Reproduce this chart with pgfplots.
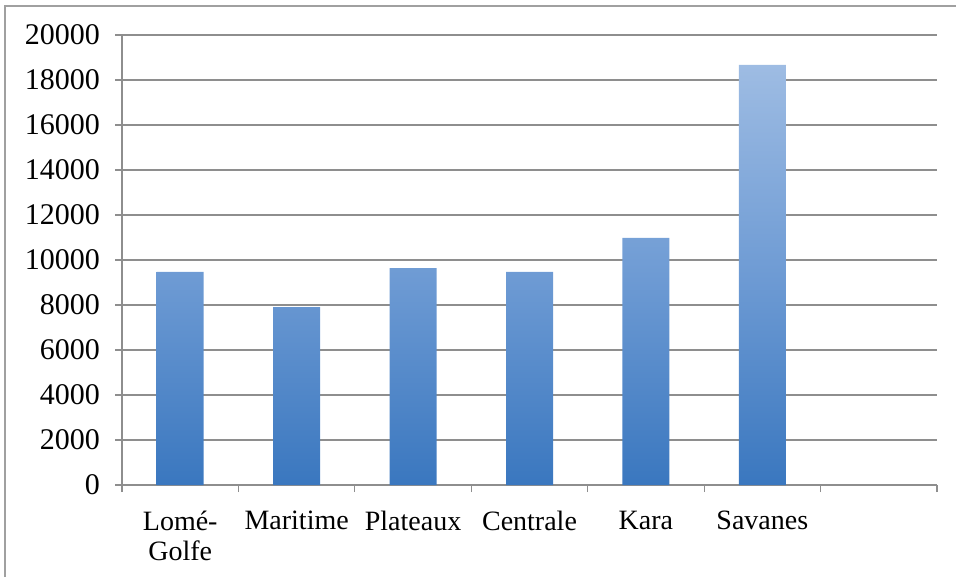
\documentclass[border=0pt]{standalone}
\usepackage{pgfplots}
\pgfplotsset{compat=1.18}
\usepackage{fontspec}
\setmainfont{Liberation Serif}
\definecolor{bartop}{HTML}{9EBCE3}
\definecolor{barmid}{HTML}{6E9BD4}
\definecolor{barbot}{HTML}{3A77BF}
\definecolor{gridgray}{HTML}{8E8E8E}
\definecolor{framegray}{HTML}{A0A0A0}
\begin{document}
\begin{tikzpicture}[x=1pt,y=1pt]
\useasboundingbox (0,0) rectangle (478,288.5);
\draw[framegray, line width=0.8pt] (2.5,0) -- (2.5,285.5) -- (478,285.5);
\begin{axis}[
  at={(61pt,46pt)}, anchor=south west,
  scale only axis, width=407.5pt, height=225pt,
  xmin=0.5, xmax=7.5, ymin=0, ymax=20000,
  ytick={0,2000,...,20000},
  xtick={1,2,3,4,5,6},
  xticklabels={{Lomé-\\Golfe},Maritime,Plateaux,Centrale,Kara,Savanes},
  minor xtick={0.5,1.5,...,7.5},
  major x tick style={draw=none},
  tick align=outside,
  major tick length=3.5pt, minor tick length=3.5pt,
  tick style={gridgray, line width=0.6pt},
  axis x line*=bottom, axis y line*=left,
  axis line style={gridgray, line width=0.7pt, -},
  ymajorgrids, grid style={gridgray, line width=0.6pt},
  scaled y ticks=false,
  yticklabel style={/pgf/number format/1000 sep={}, font=\fontsize{15}{17}\selectfont, xshift=-4pt},
  xticklabel style={font=\fontsize{14}{15}\selectfont, align=center, yshift=-6pt, text depth=0pt},
  /pgf/number format/assume math mode=true,
  ybar, bar width=23.5pt,
]
\addplot[draw=none, top color=bartop, bottom color=barbot, middle color=barmid] coordinates {
 (1,9470) (2,7910) (3,9640) (4,9470) (5,10980) (6,18670)};
\end{axis}
\end{tikzpicture}
\end{document}
